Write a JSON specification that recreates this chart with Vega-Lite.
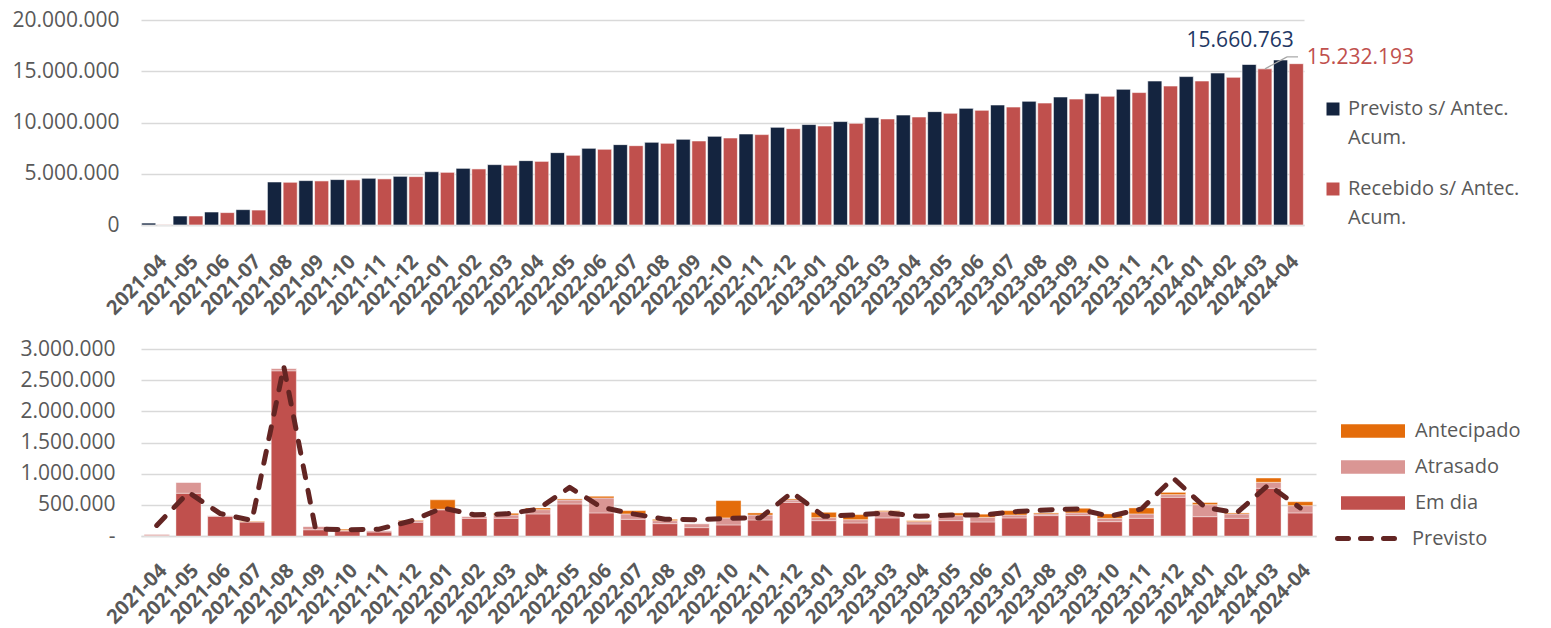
{
  "$schema": "https://vega.github.io/schema/vega-lite/v6.json",
  "background": "white",
  "padding": {"left": 11, "top": 9, "right": 0, "bottom": 0},
  "spacing": 124,
  "bounds": "flush",
  "config": {
    "font": "Open Sans",
    "locale": {"number": {"decimal": ",", "thousands": ".", "grouping": [3], "currency": ["R$", ""]}},
    "view": {"stroke": null},
    "style": {"guide-label": {"lineHeight": 29}},
    "axis": {"labelFont": "Open Sans", "labelColor": "#595959", "labelFontSize": 21, "ticks": false, "domain": false, "gridColor": "#D9D9D9", "gridWidth": 1.5, "title": null, "labelOverlap": false},
    "axisX": {"grid": false, "domain": true, "domainColor": "#D9D9D9", "domainWidth": 1.5, "labelAngle": -45, "labelFontWeight": "bold", "labelFontSize": 20, "labelPadding": 26, "labelOverlap": false, "labelBound": false},
    "axisY": {"labelPadding": 22, "labelOverlap": false},
    "legend": {"labelFont": "Open Sans", "labelColor": "#595959", "labelFontSize": 20, "title": null, "labelLimit": 300}
  },
  "datasets": {
    "acum": [
      {"mes": "2021-04", "Previsto": 190000, "Recebido": 25000},
      {"mes": "2021-05", "Previsto": 880000, "Recebido": 880000},
      {"mes": "2021-06", "Previsto": 1270000, "Recebido": 1210000},
      {"mes": "2021-07", "Previsto": 1500000, "Recebido": 1460000},
      {"mes": "2021-08", "Previsto": 4200000, "Recebido": 4170000},
      {"mes": "2021-09", "Previsto": 4330000, "Recebido": 4300000},
      {"mes": "2021-10", "Previsto": 4430000, "Recebido": 4400000},
      {"mes": "2021-11", "Previsto": 4560000, "Recebido": 4500000},
      {"mes": "2021-12", "Previsto": 4750000, "Recebido": 4720000},
      {"mes": "2022-01", "Previsto": 5200000, "Recebido": 5140000},
      {"mes": "2022-02", "Previsto": 5530000, "Recebido": 5470000},
      {"mes": "2022-03", "Previsto": 5890000, "Recebido": 5830000},
      {"mes": "2022-04", "Previsto": 6280000, "Recebido": 6210000},
      {"mes": "2022-05", "Previsto": 7060000, "Recebido": 6800000},
      {"mes": "2022-06", "Previsto": 7480000, "Recebido": 7390000},
      {"mes": "2022-07", "Previsto": 7840000, "Recebido": 7740000},
      {"mes": "2022-08", "Previsto": 8070000, "Recebido": 7970000},
      {"mes": "2022-09", "Previsto": 8360000, "Recebido": 8200000},
      {"mes": "2022-10", "Previsto": 8650000, "Recebido": 8490000},
      {"mes": "2022-11", "Previsto": 8880000, "Recebido": 8820000},
      {"mes": "2022-12", "Previsto": 9530000, "Recebido": 9400000},
      {"mes": "2023-01", "Previsto": 9800000, "Recebido": 9660000},
      {"mes": "2023-02", "Previsto": 10090000, "Recebido": 9920000},
      {"mes": "2023-03", "Previsto": 10480000, "Recebido": 10350000},
      {"mes": "2023-04", "Previsto": 10730000, "Recebido": 10540000},
      {"mes": "2023-05", "Previsto": 11060000, "Recebido": 10900000},
      {"mes": "2023-06", "Previsto": 11380000, "Recebido": 11190000},
      {"mes": "2023-07", "Previsto": 11710000, "Recebido": 11510000},
      {"mes": "2023-08", "Previsto": 12070000, "Recebido": 11900000},
      {"mes": "2023-09", "Previsto": 12490000, "Recebido": 12290000},
      {"mes": "2023-10", "Previsto": 12820000, "Recebido": 12560000},
      {"mes": "2023-11", "Previsto": 13240000, "Recebido": 12920000},
      {"mes": "2023-12", "Previsto": 14050000, "Recebido": 13560000},
      {"mes": "2024-01", "Previsto": 14480000, "Recebido": 14050000},
      {"mes": "2024-02", "Previsto": 14830000, "Recebido": 14410000},
      {"mes": "2024-03", "Previsto": 15660763, "Recebido": 15232193},
      {"mes": "2024-04", "Previsto": 16100000, "Recebido": 15740000}
    ],
    "mensal": [
      {"mes": "2021-04", "Em dia": 12000, "Atrasado": 18000, "Antecipado": 0, "Previsto": 170000},
      {"mes": "2021-05", "Em dia": 686000, "Atrasado": 176000, "Antecipado": 0, "Previsto": 700000},
      {"mes": "2021-06", "Em dia": 316000, "Atrasado": 14000, "Antecipado": 0, "Previsto": 360000},
      {"mes": "2021-07", "Em dia": 225000, "Atrasado": 5000, "Antecipado": 10000, "Previsto": 250000},
      {"mes": "2021-08", "Em dia": 2650000, "Atrasado": 40000, "Antecipado": 0, "Previsto": 2720000},
      {"mes": "2021-09", "Em dia": 100000, "Atrasado": 55000, "Antecipado": 0, "Previsto": 110000},
      {"mes": "2021-10", "Em dia": 80000, "Atrasado": 10000, "Antecipado": 20000, "Previsto": 100000},
      {"mes": "2021-11", "Em dia": 64000, "Atrasado": 22000, "Antecipado": 0, "Previsto": 110000},
      {"mes": "2021-12", "Em dia": 220000, "Atrasado": 26000, "Antecipado": 11000, "Previsto": 240000},
      {"mes": "2022-01", "Em dia": 420000, "Atrasado": 10000, "Antecipado": 150000, "Previsto": 450000},
      {"mes": "2022-02", "Em dia": 284000, "Atrasado": 32000, "Antecipado": 0, "Previsto": 340000},
      {"mes": "2022-03", "Em dia": 284000, "Atrasado": 53000, "Antecipado": 27000, "Previsto": 355000},
      {"mes": "2022-04", "Em dia": 354000, "Atrasado": 69000, "Antecipado": 27000, "Previsto": 430000},
      {"mes": "2022-05", "Em dia": 514000, "Atrasado": 64000, "Antecipado": 17000, "Previsto": 780000},
      {"mes": "2022-06", "Em dia": 370000, "Atrasado": 240000, "Antecipado": 27000, "Previsto": 460000},
      {"mes": "2022-07", "Em dia": 268000, "Atrasado": 86000, "Antecipado": 53000, "Previsto": 355000},
      {"mes": "2022-08", "Em dia": 198000, "Atrasado": 48000, "Antecipado": 22000, "Previsto": 270000},
      {"mes": "2022-09", "Em dia": 134000, "Atrasado": 64000, "Antecipado": 0, "Previsto": 262000},
      {"mes": "2022-10", "Em dia": 177000, "Atrasado": 113000, "Antecipado": 278000, "Previsto": 284000},
      {"mes": "2022-11", "Em dia": 257000, "Atrasado": 80000, "Antecipado": 33000, "Previsto": 290000},
      {"mes": "2022-12", "Em dia": 540000, "Atrasado": 38000, "Antecipado": 17000, "Previsto": 700000},
      {"mes": "2023-01", "Em dia": 246000, "Atrasado": 49000, "Antecipado": 85000, "Previsto": 316000},
      {"mes": "2023-02", "Em dia": 209000, "Atrasado": 53000, "Antecipado": 81000, "Previsto": 337000},
      {"mes": "2023-03", "Em dia": 290000, "Atrasado": 100000, "Antecipado": 17000, "Previsto": 370000},
      {"mes": "2023-04", "Em dia": 193000, "Atrasado": 37000, "Antecipado": 16000, "Previsto": 316000},
      {"mes": "2023-05", "Em dia": 246000, "Atrasado": 81000, "Antecipado": 43000, "Previsto": 337000},
      {"mes": "2023-06", "Em dia": 225000, "Atrasado": 75000, "Antecipado": 50000, "Previsto": 337000},
      {"mes": "2023-07", "Em dia": 290000, "Atrasado": 47000, "Antecipado": 70000, "Previsto": 390000},
      {"mes": "2023-08", "Em dia": 327000, "Atrasado": 27000, "Antecipado": 16000, "Previsto": 418000},
      {"mes": "2023-09", "Em dia": 327000, "Atrasado": 43000, "Antecipado": 75000, "Previsto": 434000},
      {"mes": "2023-10", "Em dia": 230000, "Atrasado": 54000, "Antecipado": 70000, "Previsto": 316000},
      {"mes": "2023-11", "Em dia": 284000, "Atrasado": 70000, "Antecipado": 96000, "Previsto": 434000},
      {"mes": "2023-12", "Em dia": 620000, "Atrasado": 44000, "Antecipado": 36000, "Previsto": 930000},
      {"mes": "2024-01", "Em dia": 310000, "Atrasado": 193000, "Antecipado": 33000, "Previsto": 460000},
      {"mes": "2024-02", "Em dia": 284000, "Atrasado": 70000, "Antecipado": 16000, "Previsto": 370000},
      {"mes": "2024-03", "Em dia": 766000, "Atrasado": 96000, "Antecipado": 68000, "Previsto": 820000},
      {"mes": "2024-04", "Em dia": 370000, "Atrasado": 117000, "Antecipado": 63000, "Previsto": 450000}
    ]
  },
  "vconcat": [
    {
      "width": 1163,
      "height": 205,
      "data": {"name": "acum"},
      "transform": [{"fold": ["Previsto", "Recebido"], "as": ["serie", "valor"]}],
      "layer": [
        {
          "mark": {"type": "bar", "stroke": "#ffffff", "strokeWidth": 0.6},
          "encoding": {
            "x": {"field": "mes", "type": "nominal", "sort": null, "scale": {"paddingInner": 0.05, "paddingOuter": 0.02}, "title": null},
            "xOffset": {"field": "serie", "scale": {"paddingInner": 0.1}},
            "y": {"field": "valor", "type": "quantitative", "scale": {"domain": [0, 20000000]}, "axis": {"values": [0, 5000000, 10000000, 15000000, 20000000], "format": ",d"}, "title": null},
            "color": {
              "field": "serie",
              "scale": {"domain": ["Previsto", "Recebido"], "range": ["#14243F", "#C0504D"]},
              "legend": {
                "orient": "none", "legendX": 1182, "legendY": 79,
                "symbolType": "square", "symbolSize": 169, "symbolStrokeWidth": 0,
                "labelOffset": 5, "rowPadding": 31,
                "labelExpr": "datum.label == 'Previsto' ? ['Previsto s/ Antec.', 'Acum.'] : ['Recebido s/ Antec.', 'Acum.']",
                "encode": {"labels": {"update": {"lineHeight": {"value": 29}}}}
              }
            }
          }
        },
        {
          "transform": [{"filter": "datum.mes == '2024-03' && datum.serie == 'Previsto'"}],
          "mark": {"type": "text", "dx": -9, "dy": -23, "fontSize": 21, "color": "#1F3864", "align": "center", "baseline": "middle"},
          "encoding": {
            "x": {"field": "mes", "type": "nominal", "sort": null},
            "xOffset": {"field": "serie"},
            "y": {"field": "valor", "type": "quantitative"},
            "text": {"field": "valor", "type": "quantitative", "format": ",d"}
          }
        },
        {
          "transform": [{"filter": "datum.mes == '2024-03' && datum.serie == 'Recebido'"}],
          "mark": {"type": "text", "dx": 42, "dy": -11, "fontSize": 21, "color": "#C0504D", "align": "left", "baseline": "middle"},
          "encoding": {
            "x": {"field": "mes", "type": "nominal", "sort": null},
            "xOffset": {"field": "serie"},
            "y": {"field": "valor", "type": "quantitative"},
            "text": {"field": "valor", "type": "quantitative", "format": ",d"}
          }
        },
        {
          "transform": [{"filter": "datum.mes == '2024-03' && datum.serie == 'Recebido'"}],
          "mark": {"type": "rule", "color": "#A6A6A6", "strokeWidth": 1.2, "xOffset": 8, "x2Offset": 30, "y2Offset": -12},
          "encoding": {
            "x": {"field": "mes", "type": "nominal", "sort": null},
            "x2": {"field": "mes"},
            "y": {"field": "valor", "type": "quantitative"},
            "y2": {"field": "valor"}
          }
        },
        {
          "transform": [{"filter": "datum.mes == '2024-03' && datum.serie == 'Recebido'"}],
          "mark": {"type": "rule", "color": "#A6A6A6", "strokeWidth": 1.2, "xOffset": 30, "x2Offset": 41, "yOffset": -12, "y2Offset": -12},
          "encoding": {
            "x": {"field": "mes", "type": "nominal", "sort": null},
            "x2": {"field": "mes"},
            "y": {"field": "valor", "type": "quantitative"},
            "y2": {"field": "valor"}
          }
        }
      ]
    },
    {
      "width": 1175,
      "height": 187,
      "data": {"name": "mensal"},
      "layer": [
        {
          "transform": [{"fold": ["Em dia", "Atrasado", "Antecipado"], "as": ["tipo", "valor"]}],
          "mark": {"type": "bar", "stroke": "#ffffff", "strokeWidth": 0.4},
          "encoding": {
            "x": {"field": "mes", "type": "nominal", "sort": null, "scale": {"paddingInner": 0.21, "paddingOuter": 0.1}, "title": null, "axis": {"labelPadding": 24}},
            "y": {"field": "valor", "type": "quantitative", "stack": "zero", "scale": {"domain": [0, 3000000]}, "axis": {"values": [0, 500000, 1000000, 1500000, 2000000, 2500000, 3000000], "format": ",d", "labelExpr": "datum.value == 0 ? '-' : datum.label", "labelPadding": 26, "labelOverlap": false}, "title": null},
            "color": {
              "field": "tipo",
              "scale": {"domain": ["Antecipado", "Atrasado", "Em dia"], "range": ["#E46C0A", "#DA9694", "#C0504D"]},
              "legend": {
                "orient": "none", "legendX": 1222, "legendY": 72,
                "symbolType": "M-4,-0.84H4V0.84H-4Z", "symbolSize": 256, "symbolStrokeWidth": 0,
                "labelOffset": 32, "rowPadding": 16
              }
            },
            "order": {"field": "tipo", "sort": "descending"}
          }
        },
        {
          "mark": {"type": "line", "strokeDash": [12, 13], "strokeWidth": 5, "strokeCap": "round", "strokeJoin": "round"},
          "encoding": {
            "x": {"field": "mes", "type": "nominal", "sort": null, "axis": {"labelPadding": 24}},
            "y": {"field": "Previsto", "type": "quantitative", "axis": {"values": [0, 500000, 1000000, 1500000, 2000000, 2500000, 3000000], "format": ",d", "labelExpr": "datum.value == 0 ? '-' : datum.label", "labelPadding": 26, "labelOverlap": false}, "title": null},
            "stroke": {
              "datum": "Previsto",
              "scale": {"domain": ["Previsto"], "range": ["#632523"]},
              "legend": {
                "orient": "none", "legendX": 1218, "legendY": 179,
                "symbolType": "M-4,0H4", "symbolSize": 256, "symbolStrokeWidth": 5, "symbolDash": [11, 12],
                "labelOffset": 32,
                "encode": {"symbols": {"update": {"strokeCap": {"value": "round"}}}}
              }
            }
          }
        }
      ]
    }
  ],
  "resolve": {"scale": {"x": "independent", "y": "independent", "color": "independent", "stroke": "independent"}, "legend": {"color": "independent", "stroke": "independent"}}
}
